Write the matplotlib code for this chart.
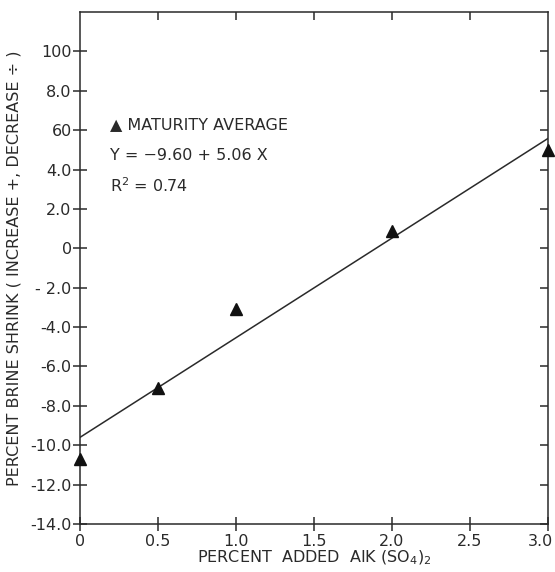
import matplotlib
matplotlib.use("Agg")
import matplotlib.pyplot as plt
import matplotlib.transforms as mtransforms
from matplotlib import lines
import numpy as np

# data
pct_alum = [0.0, 0.5, 1.0, 2.0, 3.0]
shrink = [-10.7, -7.1, -3.1, 0.9, 5.0]
fit_a, fit_b = -9.60, 5.06

y_ticks = [10, 8, 6, 4, 2, 0, -2, -4, -6, -8, -10, -12, -14]
y_labels = ["100", "8.0", "60", "4.0", "2.0", "0", "- 2.0", "-4.0", "-6.0",
            "-8.0", "-10.0", "-12.0", "-14.0"]
x_ticks = [0, 0.5, 1.0, 1.5, 2.0, 2.5, 3.0]
x_labels = ["0", "0.5", "1.0", "1.5", "2.0", "2.5", "3.0"]

ink = "#2a2a2a"
plt.rcParams["font.family"] = ["DejaVu Sans"]

fig = plt.figure(figsize=(5.55, 5.72), dpi=100)
ax = fig.add_axes([80 / 555, 48 / 572, 468 / 555, 512 / 572])

xs = np.array([0.0, 3.0])
ax.plot(xs, fit_a + fit_b * xs, color=ink, lw=1.1)
ax.plot(pct_alum, shrink, linestyle="none", marker="^", ms=8, color="#111111",
        clip_on=False, zorder=5)

ax.set_xlim(0, 3.0)
ax.set_ylim(-14, 12)
ax.set_yticks(y_ticks)
ax.set_yticklabels(y_labels)
ax.set_xticks(x_ticks)
ax.set_xticklabels(x_labels)

ax.tick_params(axis="both", direction="inout", length=10, width=1.1,
               colors=ink, labelsize=11.5)
ax.tick_params(axis="y", pad=1)
ax.tick_params(axis="x", pad=2)
ax.tick_params(top=True, right=True)

# inward ticks only on top and right
for t in ax.xaxis.get_major_ticks():
    t.tick2line.set_marker(lines.TICKDOWN)
    t.tick2line.set_markersize(6)
for t in ax.yaxis.get_major_ticks():
    t.tick2line.set_marker(lines.TICKLEFT)
    t.tick2line.set_markersize(6)
ax.xaxis.get_major_ticks()[0].tick2line.set_visible(False)
ax.xaxis.get_major_ticks()[-1].tick2line.set_visible(False)

# keep the last x label inside the figure
last = ax.get_xticklabels()[-1]
last.set_transform(last.get_transform() +
                   mtransforms.ScaledTranslation(-8 / 100, 0, fig.dpi_scale_trans))

for s in ax.spines.values():
    s.set_color(ink)
    s.set_linewidth(1.1)

ax.set_xlabel("PERCENT  ADDED  AIK (SO$_4$)$_2$", fontsize=11.5, color=ink,
              labelpad=0)
ax.set_ylabel("PERCENT BRINE SHRINK ( INCREASE +, DECREASE ÷ )", fontsize=11.5,
              color=ink, labelpad=6)

ax.text(0.19, 6.3, "\u25B2 MATURITY AVERAGE", fontsize=11.5, color=ink,
        va="center")
ax.text(0.19, 4.7, "Y = \u22129.60 + 5.06 X", fontsize=11.5, color=ink,
        va="center")
ax.text(0.19, 3.2, "R$^2$ = 0.74", fontsize=11.5, color=ink, va="center")

fig.savefig("out.png", dpi=100)
